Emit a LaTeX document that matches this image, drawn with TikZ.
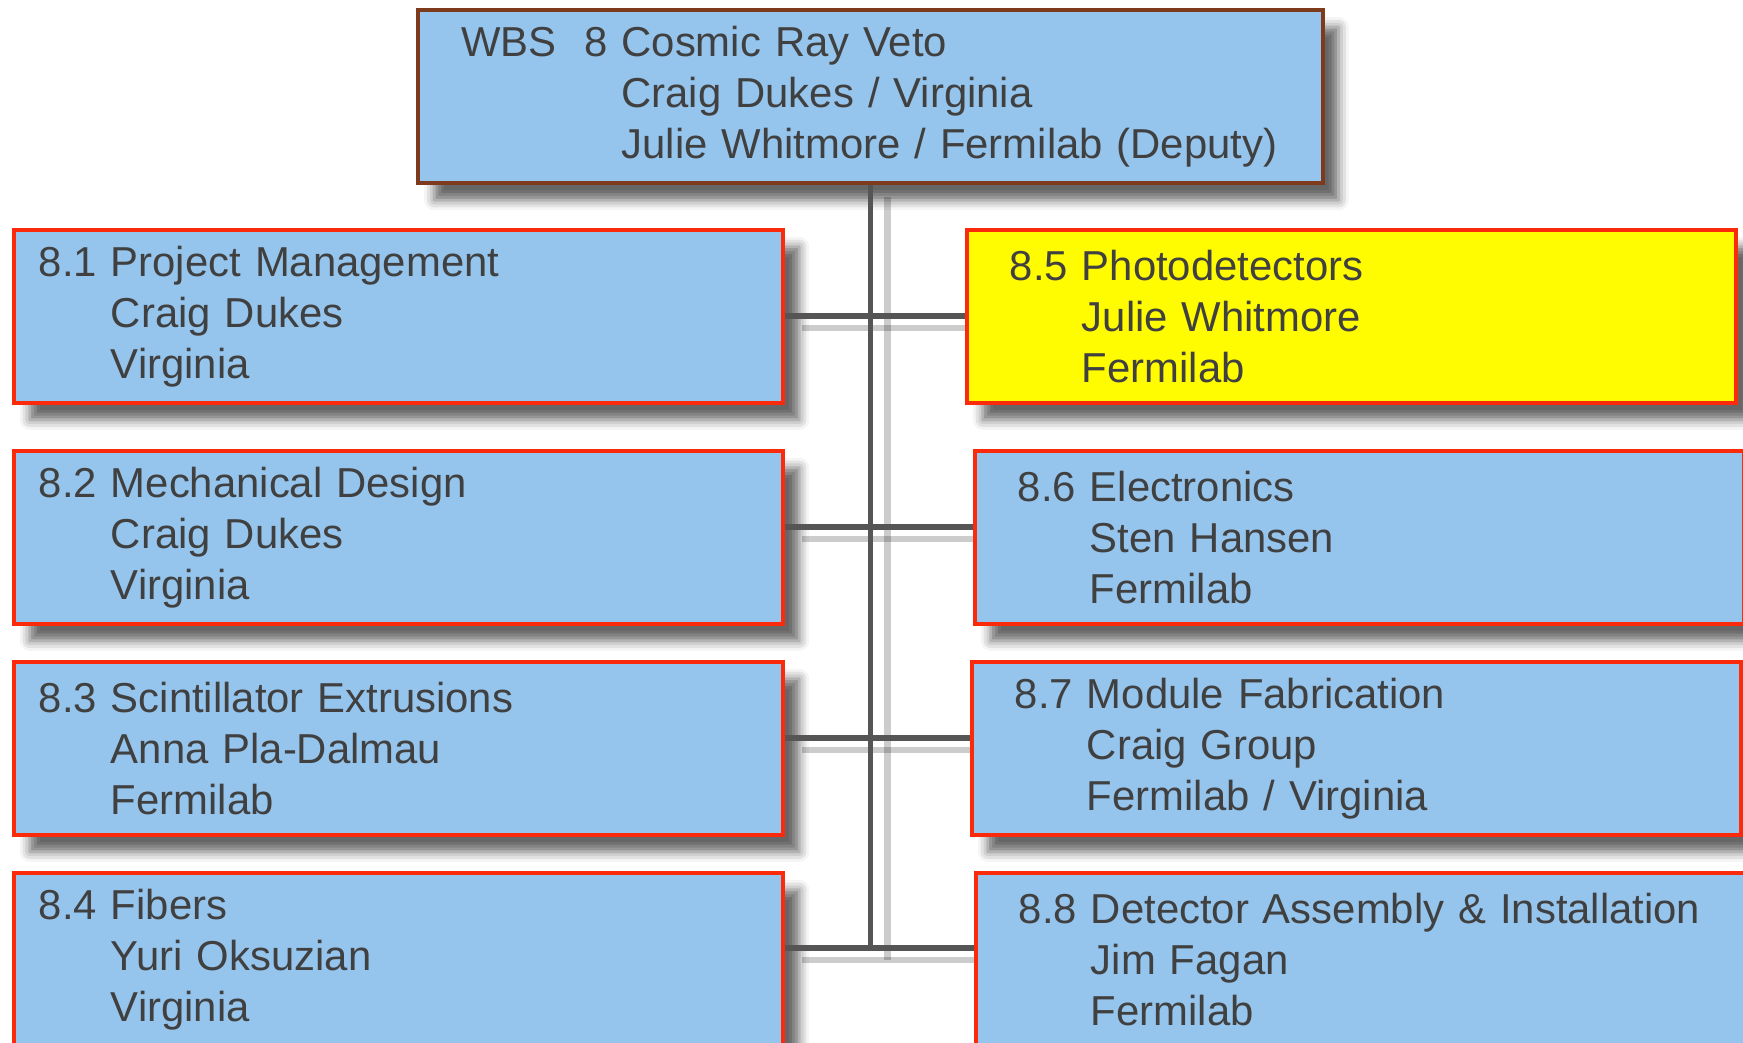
\documentclass[tikz,border=0pt]{standalone}
\usepackage{fontspec}
\setmainfont{Liberation Sans}
\usepackage{tikz}
\usetikzlibrary{positioning,shadows.blur,backgrounds}
\definecolor{CrvBlue}{HTML}{95C4EC}
\definecolor{CrvRed}{HTML}{FA2A0A}
\definecolor{CrvBrown}{HTML}{7E3A1C}
\definecolor{CrvYellow}{HTML}{FFFB00}
\definecolor{CrvInk}{HTML}{404040}
\definecolor{CrvLine}{HTML}{555555}
\newcommand\wbsgap[1]{\hphantom{#1}\ }

\begin{document}
\begin{tikzpicture}[x=0.01cm, y=-0.01cm,
  every node/.style={font=\fontsize{11.9}{14.5}\selectfont, text=CrvInk, align=left, anchor=north west},
  wbspad/.style={execute at begin node={\leftskip=#1\relax}},
  wbs/.style={draw=CrvRed, fill=CrvBlue, line width=1pt, inner ysep=0pt, inner xsep=0pt,
    minimum height=1.73cm, text width=7.69cm, wbspad=0.25cm,
    blur shadow={shadow xshift=0.16cm, shadow yshift=-0.17cm, shadow blur radius=0.1cm, shadow opacity=60}},
  wbsright/.style={wbs, wbspad=0.43cm},
  link/.style={draw=CrvLine, line width=1.6pt},
  linkshadow/.style={draw=black, opacity=0.2, line width=1.8pt, transform canvas={shift={(0.17cm,-0.12cm)}}}]
  \useasboundingbox (0,0) rectangle (1743,1043);

  \node[wbs, draw=CrvBrown, line width=1.2pt, text width=9.04cm, wbspad=0.43cm] (top) at (416,8)
    {WBS\ \ 8 Cosmic Ray Veto\\\wbsgap{WBS\ \ 8}Craig Dukes / Virginia\\\wbsgap{WBS\ \ 8}Julie Whitmore / Fermilab (Deputy)};

  \node[wbs] (b81) at (12,228) {8.1 Project Management\\\wbsgap{8.1}Craig Dukes\\\wbsgap{8.1}Virginia};
  \node[wbs] (b82) at (12,449) {8.2 Mechanical Design\\\wbsgap{8.2}Craig Dukes\\\wbsgap{8.2}Virginia};
  \node[wbs] (b83) at (12,660) {8.3 Scintillator Extrusions\\\wbsgap{8.3}Anna Pla-Dalmau\\\wbsgap{8.3}Fermilab};
  \node[wbs] (b84) at (12,871) {8.4 Fibers\\\wbsgap{8.4}Yuri Oksuzian\\\wbsgap{8.4}Virginia};

  \node[wbsright, fill=CrvYellow] (b85) at (965,228) {8.5 Photodetectors\\\wbsgap{8.5}Julie Whitmore\\\wbsgap{8.5}Fermilab};
  \node[wbsright] (b86) at (973,449) {8.6 Electronics\\\wbsgap{8.6}Sten Hansen\\\wbsgap{8.6}Fermilab};
  \node[wbsright] (b87) at (970,660) {8.7 Module Fabrication\\\wbsgap{8.7}Craig Group\\\wbsgap{8.7}Fermilab / Virginia};
  \node[wbsright] (b88) at (974,871) {8.8 Detector Assembly \& Installation\\\wbsgap{8.8}Jim Fagan\\\wbsgap{8.8}Fermilab};

  \coordinate (trunkend) at ([yshift=0.11cm]b84.east -| top.south);

  \begin{scope}[on background layer]
    \draw[linkshadow] (top.south) -- (trunkend);
    \draw[linkshadow] (b81.east) -- (b81.east -| b85.west);
    \draw[linkshadow] ([yshift=0.1cm]b82.east) -- ([yshift=0.1cm]b82.east -| b86.west);
    \draw[linkshadow] ([yshift=0.1cm]b83.east) -- ([yshift=0.1cm]b83.east -| b87.west);
    \draw[linkshadow] ([yshift=0.11cm]b84.east) -- ([yshift=0.11cm]b84.east -| b88.west);
  \end{scope}

  \draw[link] (top.south) -- (trunkend);
  \draw[link] (b81.east) -- (b81.east -| b85.west);
  \draw[link] ([yshift=0.1cm]b82.east) -- ([yshift=0.1cm]b82.east -| b86.west);
  \draw[link] ([yshift=0.1cm]b83.east) -- ([yshift=0.1cm]b83.east -| b87.west);
  \draw[link] ([yshift=0.11cm]b84.east) -- ([yshift=0.11cm]b84.east -| b88.west);
\end{tikzpicture}
\end{document}
